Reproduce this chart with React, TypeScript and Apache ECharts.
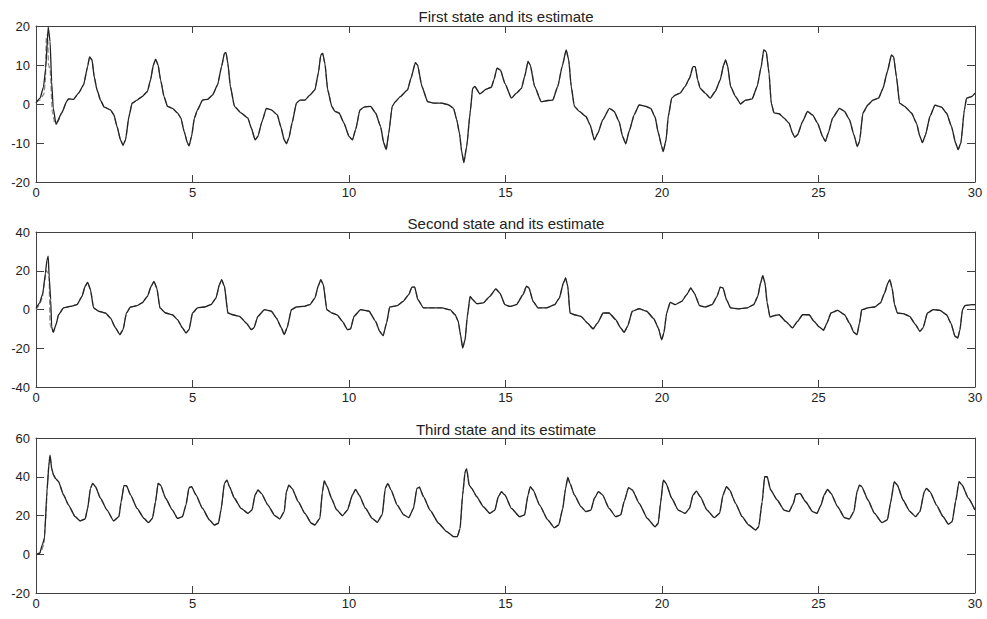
import React, { useEffect, useRef } from "react";
import * as echarts from "echarts";

// ---- Data (time, value) ----
const titles = ["First state and its estimate", "Second state and its estimate", "Third state and its estimate"];
const xTicks = { min: 0, max: 30, interval: 5 };
const yRanges = [
  { min: -20, max: 20, interval: 10 },
  { min: -40, max: 40, interval: 20 },
  { min: -20, max: 60, interval: 20 },
];

const state1: number[][] = [
  [0, 0.3], [0.13, 1.5], [0.24, 4.4], [0.31, 9.2], [0.39, 19.8], [0.45, 16], [0.5, 5.7], [0.55, -1], [0.64, -5.2], [0.82, -2.3],
  [0.99, 0.8], [1.04, 1.3], [1.2, 1.2], [1.36, 2.8], [1.52, 4.9], [1.65, 9.6], [1.71, 12.1], [1.79, 11.3], [1.86, 7], [1.95, 3.6],
  [2.06, 1], [2.18, -0.8], [2.38, -1.5], [2.49, -2.8], [2.59, -5.8], [2.7, -9.2], [2.78, -10.6], [2.86, -9.2], [2.97, -3.2], [3.07, 0.2],
  [3.23, 1], [3.39, 1.9], [3.56, 3.2], [3.66, 6.2], [3.75, 10], [3.82, 11.5], [3.9, 10], [3.98, 6.2], [4.09, 1.9], [4.2, -0.6],
  [4.36, -1.1], [4.52, -2.3], [4.63, -3.6], [4.73, -7], [4.84, -10], [4.89, -10.7], [4.97, -8.3], [5.06, -3.6], [5.16, -1.5], [5.32, 1],
  [5.48, 1.2], [5.64, 2.3], [5.8, 4.9], [5.93, 9.6], [6.02, 13], [6.07, 13.2], [6.13, 10.4], [6.21, 4.5], [6.34, -0.6], [6.55, -2.3],
  [6.77, -3.6], [6.88, -6.2], [7.0, -9.2], [7.09, -8.3], [7.22, -4.5], [7.36, -1.1], [7.52, -1.5], [7.71, -2.8], [7.82, -5.8], [7.93, -9.2],
  [8.0, -10.2], [8.08, -8.7], [8.18, -4.9], [8.32, 0.2], [8.43, 1], [8.59, 1], [8.75, 2.3], [8.91, 3.6], [9.02, 7.9], [9.1, 12.6],
  [9.16, 13], [9.23, 10.4], [9.32, 3.6], [9.45, -0.6], [9.55, -1.9], [9.68, -2.3], [9.84, -4.9], [10.0, -8.3], [10.11, -9.2], [10.21, -6.6],
  [10.35, -1.5], [10.48, -0.8], [10.69, -0.6], [10.85, -2.3], [11.01, -5.8], [11.11, -10], [11.19, -11.7], [11.27, -7.5], [11.38, -0.6], [11.48, 0.6],
  [11.64, 1.9], [11.87, 3.6], [11.98, 6.6], [12.12, 10.6], [12.19, 10], [12.33, 4.5], [12.51, 0.6], [12.7, 0.2], [12.97, 0.2], [13.18, -0.2],
  [13.34, -1.1], [13.44, -4], [13.53, -7.5], [13.6, -12.2], [13.67, -15], [13.76, -10.9], [13.87, -2.3], [13.95, 4], [14.02, 4.5], [14.18, 2.6],
  [14.39, 3.8], [14.55, 4.3], [14.63, 6.2], [14.73, 9.2], [14.84, 8.7], [14.98, 5.3], [15.19, 1.5], [15.35, 2.8], [15.51, 4], [15.61, 7],
  [15.72, 10.9], [15.79, 10], [15.93, 4.5], [16.14, 0.6], [16.35, 0.9], [16.51, 1], [16.67, 4.5], [16.81, 9.6], [16.94, 13.9], [17.02, 11.3],
  [17.1, 4.5], [17.2, -0.6], [17.36, -1.9], [17.57, -3.2], [17.7, -5.3], [17.84, -9.2], [17.95, -7.5], [18.11, -4], [18.32, -1.1], [18.47, -1.9],
  [18.63, -4.5], [18.74, -8.3], [18.84, -10.2], [18.95, -7], [19.11, -2.8], [19.27, -0.2], [19.48, -0.6], [19.64, -1.1], [19.78, -3.4], [19.88, -7.3],
  [19.99, -10.9], [20.04, -12.2], [20.13, -9.2], [20.2, -3.2], [20.31, 1.5], [20.42, 2.3], [20.58, 2.8], [20.74, 4.5], [20.88, 6.6], [20.99, 9.6],
  [21.06, 9.6], [21.14, 6.2], [21.22, 4], [21.38, 2.8], [21.54, 1.5], [21.7, 3.2], [21.86, 6.2], [21.97, 10], [22.03, 11.3], [22.1, 9.6],
  [22.19, 4.5], [22.35, 1.9], [22.51, 0], [22.67, 1], [22.88, 1.3], [23.04, 4.5], [23.17, 9.6], [23.25, 13.9], [23.33, 13.4], [23.42, 7.9],
  [23.49, 0.2], [23.58, -2.3], [23.74, -2.5], [23.9, -3.6], [24.06, -4.9], [24.17, -7.5], [24.24, -8.5], [24.33, -7.9], [24.49, -4.5], [24.65, -1.9],
  [24.81, -2.8], [24.97, -4.9], [25.13, -8.3], [25.22, -9.6], [25.31, -7.5], [25.45, -3.6], [25.67, -1.1], [25.83, -1.9], [25.99, -4], [26.13, -7.9],
  [26.24, -10.9], [26.31, -9.6], [26.42, -2.3], [26.58, -0.2], [26.74, 1], [26.92, 1.5], [27.06, 4], [27.2, 8.3], [27.33, 12.6], [27.4, 12.1],
  [27.49, 7], [27.59, 0.2], [27.75, -0.6], [27.97, -2.3], [28.13, -4.9], [28.24, -8.3], [28.32, -9.9], [28.42, -7.9], [28.56, -3.2], [28.72, -0.3],
  [28.93, -0.8], [29.09, -2.3], [29.25, -5.8], [29.38, -10], [29.46, -11.7], [29.55, -10], [29.66, -1.5], [29.73, 1.5], [29.89, 1.9], [30, 2.8],
];

const state2: number[][] = [
  [0, 0.6], [0.11, 3.2], [0.22, 8.5], [0.3, 18.8], [0.35, 25.5], [0.39, 27.5], [0.42, 17], [0.47, 5], [0.5, -8.9], [0.55, -11.8],
  [0.64, -7.8], [0.72, -2.7], [0.88, 0.8], [1.09, 1.6], [1.31, 2.5], [1.47, 6.8], [1.57, 12], [1.65, 14], [1.74, 10.2], [1.84, 0.8],
  [2.0, -0.9], [2.22, -1.8], [2.38, -4.4], [2.54, -9.5], [2.68, -13], [2.78, -10.4], [2.89, -1.8], [3.02, 1.3], [3.23, 2], [3.39, 3.4],
  [3.56, 6.8], [3.68, 12], [3.77, 14.5], [3.86, 11.1], [3.96, 0.8], [4.14, -1.8], [4.36, -2.7], [4.52, -5.2], [4.68, -9.5], [4.79, -12.1],
  [4.89, -10.4], [5.0, -1.8], [5.16, 0.8], [5.38, 1.3], [5.59, 2.5], [5.75, 5.9], [5.86, 12.8], [5.93, 15.4], [6.02, 12], [6.13, -1.8],
  [6.29, -2.7], [6.5, -3.5], [6.72, -7], [6.88, -10.4], [6.96, -9.5], [7.09, -3.5], [7.3, -0.1], [7.52, -0.9], [7.68, -4.4], [7.84, -9.5],
  [7.93, -13], [8.02, -9.5], [8.16, -0.1], [8.32, 1.3], [8.54, 1.6], [8.75, 2.5], [8.91, 5.9], [9.02, 12.3], [9.1, 15.4], [9.18, 12.8],
  [9.29, -0.1], [9.45, -1.8], [9.62, -2.8], [9.79, -6.1], [9.95, -10.4], [10.05, -10], [10.16, -3.5], [10.37, -0.1], [10.64, -0.9], [10.85, -6.1],
  [10.98, -11.3], [11.09, -13.5], [11.2, -7], [11.3, 1.3], [11.54, 2], [11.73, 4.2], [11.91, 7.7], [12.01, 11.6], [12.1, 11.6], [12.2, 5.1],
  [12.38, 0.8], [12.65, 0.8], [12.97, 0.8], [13.23, -0.1], [13.39, -2.7], [13.49, -6.1], [13.57, -13.8], [13.63, -19.9], [13.71, -15.6], [13.78, -3.5],
  [13.87, 6.8], [13.95, 5.1], [14.08, 3], [14.29, 3.4], [14.5, 6.8], [14.69, 10.6], [14.82, 8.5], [14.98, 2.5], [15.14, 1.6], [15.35, 2.5],
  [15.56, 7.7], [15.67, 12], [15.75, 11.1], [15.88, 4.2], [16.04, 0.8], [16.3, 0.8], [16.57, 2.5], [16.72, 5.9], [16.85, 13.7], [16.92, 16.3],
  [16.99, 12], [17.06, -1.8], [17.2, -2.7], [17.41, -3.5], [17.62, -7], [17.8, -10], [17.94, -7], [18.12, -1.8], [18.31, -1.8], [18.52, -5.2],
  [18.68, -9.5], [18.79, -11.8], [18.9, -8.7], [19.05, -0.9], [19.27, 0.4], [19.51, -0.9], [19.74, -4.8], [19.88, -9.5], [19.99, -15.6], [20.06, -12.1],
  [20.15, -1.8], [20.26, 3.7], [20.42, 2.5], [20.63, 4.2], [20.79, 7.7], [20.92, 11.1], [21.03, 8.5], [21.2, 2], [21.38, 1.3], [21.6, 2.5],
  [21.76, 6.8], [21.86, 11.6], [21.95, 11.1], [22.06, 5.1], [22.19, 0.8], [22.45, 0.3], [22.72, 0.8], [22.93, 2.5], [23.06, 6.8], [23.15, 13.7],
  [23.22, 17.5], [23.29, 13.7], [23.36, 3.4], [23.45, -3.9], [23.58, -3.2], [23.74, -2.7], [23.95, -6.1], [24.17, -9.5], [24.33, -6.1], [24.49, -2.7],
  [24.7, -2.7], [24.86, -6.1], [25.02, -9], [25.16, -10.7], [25.27, -7], [25.4, -1.8], [25.61, -0.4], [25.83, -2.7], [25.99, -7], [26.13, -11.8],
  [26.23, -13], [26.31, -7], [26.38, -0.1], [26.58, 0.8], [26.79, 1.3], [26.98, 3.4], [27.11, 8.5], [27.22, 13.7], [27.28, 15.4], [27.35, 11.1],
  [27.43, 2.5], [27.52, -1.8], [27.7, -2.1], [27.91, -3.5], [28.1, -7.8], [28.24, -11.3], [28.34, -9.5], [28.48, -1.8], [28.66, -0.1], [28.88, -0.4],
  [29.09, -2.7], [29.23, -7], [29.36, -13.8], [29.45, -14.7], [29.52, -10.4], [29.6, -0.1], [29.68, 2], [29.9, 2.5], [30, 2.5],
];

const state3: number[][] = [
  [0, 0], [0.12, 0.5], [0.2, 4.8], [0.27, 8.2], [0.35, 32.3], [0.42, 47.8], [0.45, 51.2], [0.5, 44.4], [0.56, 40.9], [0.63, 39],
  [0.72, 37.5], [0.88, 30.6], [1.04, 25.4], [1.25, 19.4], [1.41, 17.2], [1.57, 18.2], [1.65, 23.7], [1.74, 34], [1.81, 36.6], [1.9, 34.9],
  [2.06, 28.9], [2.27, 22.8], [2.48, 17.2], [2.65, 19.4], [2.72, 27.1], [2.81, 35.4], [2.89, 35.4], [3.02, 30.6], [3.23, 23.7], [3.45, 18.5],
  [3.59, 16.3], [3.72, 18.5], [3.82, 27.1], [3.9, 36.6], [3.98, 35.7], [4.14, 28.9], [4.36, 22.8], [4.52, 18.5], [4.68, 19.4], [4.79, 25.4],
  [4.89, 34.4], [4.97, 34.9], [5.11, 30.6], [5.32, 23.7], [5.54, 17.7], [5.7, 15.1], [5.83, 16], [5.91, 22.8], [6.02, 36.6], [6.1, 38.3],
  [6.18, 34.9], [6.34, 28.9], [6.55, 23.7], [6.77, 21.1], [6.9, 22.8], [7.0, 30.6], [7.09, 33.2], [7.2, 31.4], [7.41, 25.4], [7.63, 19.9],
  [7.79, 18.2], [7.93, 22], [8.0, 32.3], [8.08, 35.7], [8.18, 34], [8.38, 27.1], [8.59, 21.1], [8.8, 16], [8.91, 15.1], [9.07, 18.5],
  [9.15, 32.3], [9.21, 37.8], [9.3, 35], [9.45, 28.5], [9.6, 23], [9.79, 19.9], [9.95, 22.8], [10.11, 30.6], [10.21, 33.5], [10.32, 30.6],
  [10.53, 23.7], [10.74, 18.5], [10.9, 16.5], [11.06, 20.3], [11.16, 34], [11.24, 36.6], [11.34, 33.2], [11.54, 25.4], [11.75, 20.3], [11.91, 18.9],
  [12.06, 23.7], [12.17, 34], [12.25, 34.6], [12.38, 29.7], [12.59, 22.8], [12.86, 16], [13.12, 11.7], [13.34, 9.1], [13.46, 9.1], [13.55, 13.4],
  [13.63, 30.6], [13.71, 42.6], [13.76, 44], [13.84, 35.7], [13.92, 34], [14.08, 29.7], [14.29, 24.6], [14.5, 21.1], [14.66, 22.8], [14.77, 29.7],
  [14.87, 32.3], [14.98, 30.6], [15.19, 23.7], [15.45, 19.4], [15.61, 20.3], [15.72, 30.6], [15.79, 34.9], [15.88, 33.2], [16.09, 25.4], [16.35, 17.7],
  [16.56, 13.7], [16.7, 15.1], [16.83, 23.7], [16.92, 34], [16.99, 39.7], [17.06, 36.6], [17.2, 30.6], [17.41, 24.6], [17.57, 22], [17.73, 22.8],
  [17.84, 28.9], [17.97, 32.3], [18.1, 30.6], [18.31, 23.7], [18.52, 19.4], [18.68, 20.3], [18.79, 27.1], [18.93, 34.4], [19.05, 33.2], [19.27, 26.3],
  [19.53, 18.5], [19.78, 14.2], [19.88, 16], [19.96, 27.1], [20.04, 38.3], [20.13, 36.6], [20.31, 28.9], [20.52, 22.8], [20.74, 21.1], [20.88, 23.7],
  [20.99, 30.6], [21.1, 32.6], [21.22, 29.7], [21.44, 22.8], [21.67, 18.9], [21.84, 21.1], [21.95, 30.6], [22.06, 34.9], [22.16, 33.2], [22.35, 26.3],
  [22.56, 19.4], [22.77, 15.1], [22.99, 12.5], [23.09, 14.2], [23.2, 27.1], [23.28, 40], [23.36, 40], [23.47, 33.2], [23.68, 28], [23.9, 22.8],
  [24.06, 22], [24.2, 26.3], [24.27, 30.9], [24.41, 31.4], [24.59, 27.1], [24.81, 22], [24.95, 21.1], [25.08, 25.4], [25.18, 30.6], [25.29, 33.5],
  [25.4, 31.4], [25.61, 24.6], [25.83, 18.9], [25.99, 18.2], [26.13, 22], [26.23, 32.3], [26.31, 35.7], [26.38, 34.9], [26.58, 28], [26.79, 21.1],
  [27.03, 16.3], [27.2, 17.7], [27.31, 27.1], [27.42, 37.5], [27.52, 35.7], [27.7, 28], [27.91, 22.3], [28.1, 19.4], [28.24, 22], [28.38, 32.3],
  [28.45, 34], [28.56, 32.3], [28.77, 25.4], [28.98, 19.4], [29.15, 15.5], [29.27, 16.8], [29.38, 27.1], [29.49, 37.5], [29.59, 35.7], [29.79, 28.9],
  [30, 22.8],
];

// Estimates differ from the states only during the initial transient
const estimate1Start: number[][] = [
  [0, 0.5], [0.12, 1.0], [0.25, 2.5], [0.3, 6], [0.33, 17], [0.37, 18], [0.4, 10], [0.45, 9], [0.52, -2], [0.6, -4.8], [0.7, -4.5],
];
const estimate2Start: number[][] = [
  [0, 0], [0.1, 2], [0.2, 6], [0.28, 15], [0.33, 20], [0.38, 19], [0.42, 16], [0.45, -8], [0.55, -11.5], [0.64, -7.8],
];
const estimate3Start: number[][] = [
  [0, 0], [0.15, 1], [0.25, 5], [0.32, 20], [0.36, 35], [0.41, 46], [0.45, 50], [0.5, 44],
];

const FONT = "'Liberation Sans', Arial, sans-serif";

function joinEstimate(start: number[][], state: number[][]) {
  const last = start[start.length - 1][0];
  return start.concat(state.filter((p) => p[0] > last));
}

export default function App() {
  const ref = useRef<HTMLDivElement>(null);

  useEffect(() => {
    if (!ref.current) return;
    const chart = echarts.init(ref.current, null, { renderer: "svg" });

    const tops = [26, 232, 438];
    const heights = [156, 155, 155];
    const titleY = [16, 223, 429];
    const states = [state1, state2, state3];
    const estStarts = [estimate1Start, estimate2Start, estimate3Start];
    const axisColor = "#404040";
    const labelStyle = { color: "#222", fontSize: 13, fontFamily: FONT };

    const grid = tops.map((top, i) => ({ left: 36, width: 939, top, height: heights[i] }));
    const xAxis: any[] = [];
    const yAxis: any[] = [];
    const series: any[] = [];

    tops.forEach((_, i) => {
      xAxis.push({
        type: "value", gridIndex: i, position: "bottom", ...xTicks,
        axisLine: { show: true, onZero: false, lineStyle: { color: axisColor, width: 1 } },
        axisTick: { show: true, inside: true, length: 7, lineStyle: { color: axisColor } },
        axisLabel: { ...labelStyle, margin: 4 },
        splitLine: { show: false },
      });
      xAxis.push({
        type: "value", gridIndex: i, position: "top", ...xTicks,
        axisLine: { show: true, onZero: false, lineStyle: { color: axisColor, width: 1 } },
        axisTick: { show: true, inside: true, length: 7, lineStyle: { color: axisColor } },
        axisLabel: { show: false },
        splitLine: { show: false },
      });
      yAxis.push({
        type: "value", gridIndex: i, position: "left", ...yRanges[i],
        axisLine: { show: true, onZero: false, lineStyle: { color: axisColor, width: 1 } },
        axisTick: { show: true, inside: true, length: 8, lineStyle: { color: axisColor } },
        axisLabel: { ...labelStyle, margin: 6 },
        splitLine: { show: false },
      });
      yAxis.push({
        type: "value", gridIndex: i, position: "right", ...yRanges[i],
        axisLine: { show: true, onZero: false, lineStyle: { color: axisColor, width: 1 } },
        axisTick: { show: true, inside: true, length: 8, lineStyle: { color: axisColor } },
        axisLabel: { show: false },
        splitLine: { show: false },
      });
      series.push({
        name: "estimate " + (i + 1), type: "line", xAxisIndex: 2 * i, yAxisIndex: 2 * i,
        data: joinEstimate(estStarts[i], states[i]), showSymbol: false, z: 2,
        smooth: 0.15, smoothMonotone: "x",
        lineStyle: { color: "#8a8a8a", width: 1.3, type: "dashed" },
      });
      series.push({
        name: "state " + (i + 1), type: "line", xAxisIndex: 2 * i, yAxisIndex: 2 * i,
        data: states[i], showSymbol: false, z: 3,
        smooth: 0.15, smoothMonotone: "x",
        lineStyle: { color: "#222222", width: 1.3 },
      });
    });

    chart.setOption({
      animation: false,
      backgroundColor: "#ffffff",
      grid, xAxis, yAxis, series,
      graphic: titles.map((t, i) => ({
        type: "text", x: 506, y: titleY[i],
        style: { text: t, fill: "#222", fontSize: 15, fontFamily: FONT, textAlign: "center", textVerticalAlign: "middle" },
      })),
    });

    return () => chart.dispose();
  }, []);

  return <div ref={ref} style={{ position: "fixed", left: 0, top: 0, width: 987, height: 619, background: "#fff" }} />;
}
